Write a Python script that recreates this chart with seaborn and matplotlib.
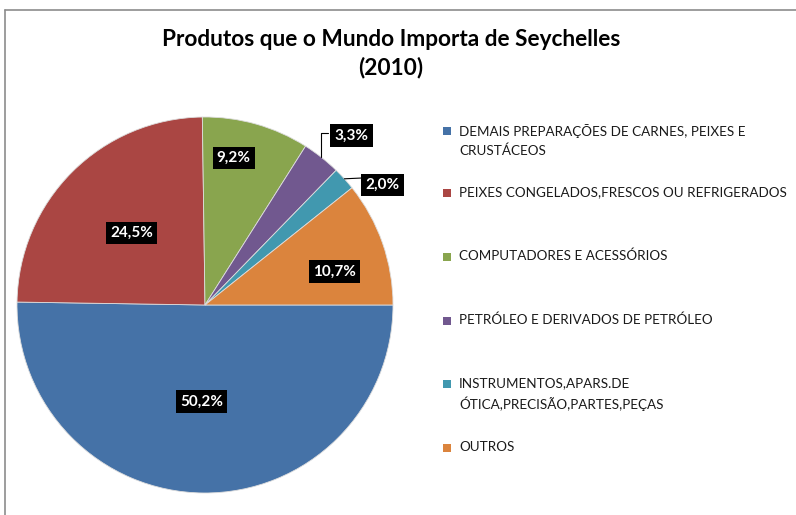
import numpy as np
import matplotlib
matplotlib.use("Agg")
import matplotlib.pyplot as plt
import seaborn as sns

sns.set_theme(style="white")
plt.rcParams['font.family'] = ['Lato', 'DejaVu Sans']

categories = [
    "DEMAIS PREPARAÇÕES DE CARNES, PEIXES E\nCRUSTÁCEOS",
    "PEIXES CONGELADOS,FRESCOS OU REFRIGERADOS",
    "COMPUTADORES E ACESSÓRIOS",
    "PETRÓLEO E DERIVADOS DE PETRÓLEO",
    "INSTRUMENTOS,APARS.DE\nÓTICA,PRECISÃO,PARTES,PEÇAS",
    "OUTROS",
]
values = [50.2, 24.5, 9.2, 3.3, 2.0, 10.7]
pct_labels = ["50,2%", "24,5%", "9,2%", "3,3%", "2,0%", "10,7%"]
colors = ["#4572A7", "#AA4643", "#89A54E", "#71588F", "#4198AF", "#DB843D"]

W, H = 796, 515
fig = plt.figure(figsize=(W / 100, H / 100), dpi=100)
fig.patch.set_facecolor("white")

# frame lines (top and left)
fig.add_artist(plt.Line2D([5 / W, 1], [1 - 10 / H, 1 - 10 / H], color="#8c8c8c", lw=1.2))
fig.add_artist(plt.Line2D([5 / W, 5 / W], [0, 1 - 10 / H], color="#8c8c8c", lw=1.2))

cx, cy, R = 205, 305, 188
ax = fig.add_axes([(cx - R) / W, (H - cy - R) / H, 2 * R / W, 2 * R / H])
wedges, _ = ax.pie(values, colors=colors, startangle=0, counterclock=False,
                   radius=1, wedgeprops=dict(linewidth=0.6, edgecolor="#dddddd"))
ax.set_xlim(-1, 1)
ax.set_ylim(-1, 1)
ax.set_aspect("equal")
ax.axis("off")

# label placement (distance from center, angle in degrees)
label_pos = [(0.513, -92.1), (0.547, 135.6), (0.797, 78.9), (1.191, 49.1), (1.141, 34.0), (0.712, 14.5)]
for i, (lab, (d, ang)) in enumerate(zip(pct_labels, label_pos)):
    x = d * np.cos(np.radians(ang))
    y = d * np.sin(np.radians(ang))
    ax.text(x, y, lab, color="white", fontsize=11, fontweight="bold",
            ha="center", va="center", clip_on=False,
            bbox=dict(boxstyle="square,pad=0.28", fc="black", ec="none"))

# leader lines for small slices
for i, tgt in [(3, "elbow"), (4, "flat")]:
    w = wedges[i]
    mid = np.radians((w.theta1 + w.theta2) / 2)
    x0, y0 = np.cos(mid), np.sin(mid)
    if tgt == "elbow":
        ey = (305 - 133) / R
        ax.plot([x0, x0, (328 - cx) / R], [y0, ey, ey], color="black", lw=0.8, clip_on=False)
    else:
        ax.plot([x0, (362 - cx) / R], [y0, (305 - 178) / R], color="black", lw=0.8, clip_on=False)

# title
fig.text(391 / W, 1 - 40 / H, "Produtos que o Mundo Importa de Seychelles", ha="center", va="center",
         fontsize=16.3, fontweight="bold", color="black")
fig.text(391 / W, 1 - 68 / H, "(2010)", ha="center", va="center",
         fontsize=16.3, fontweight="bold", color="black")

# legend
leg_y = [131, 193, 257, 321, 384, 448]
for lab, col, yy in zip(categories, colors, leg_y):
    fig.patches.append(plt.Rectangle(((443) / W, 1 - (yy + 4) / H), 8 / W, 8 / H,
                                     transform=fig.transFigure, fc=col, ec="none"))
    fig.text(459 / W, 1 - (yy - 7) / H, lab, ha="left", va="top", fontsize=9.7,
             color="#1a1a1a", linespacing=1.6)

fig.savefig("out.png", dpi=100)
